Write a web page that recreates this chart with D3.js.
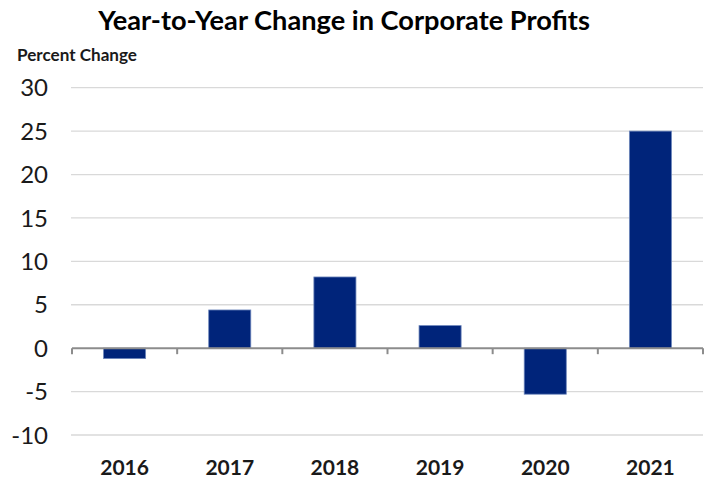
<!DOCTYPE html>
<html><head><meta charset="utf-8">
<script src="https://cdn.jsdelivr.net/npm/d3@7/dist/d3.min.js"></script>
<style>body{margin:0;background:#fff;} svg{display:block;}</style>
</head><body>
<svg id="c" width="706" height="479"></svg>
<script>
const years = ["2016","2017","2018","2019","2020","2021"];
const values = [-1.2, 4.4, 8.2, 2.6, -5.3, 25.0];
const yTicks = [-10,-5,0,5,10,15,20,25,30];
const title = "Year-to-Year Change in Corporate Profits";
const yLabel = "Percent Change";

const svg = d3.select("#c");
const font = "Lato, 'Open Sans', sans-serif";
const x = d3.scaleBand().domain(years).range([72, 703]).paddingInner(0).paddingOuter(0);
const y = d3.scaleLinear().domain([-10, 30]).range([435, 87.7]);

// gridlines
svg.append("g").selectAll("line").data(yTicks.filter(d => d !== 0)).join("line")
  .attr("x1", 71).attr("x2", 703)
  .attr("y1", d => y(d)).attr("y2", d => y(d))
  .attr("stroke", "#d9d9d9").attr("stroke-width", 1.3);

// y tick labels
svg.append("g").selectAll("text").data(yTicks).join("text")
  .attr("x", 48).attr("y", d => y(d)).attr("dy", "0.36em")
  .attr("text-anchor", "end")
  .attr("font-family", font).attr("font-size", 24).attr("fill", "#1a1a1a")
  .text(d => d);

// bars
const bw = x.bandwidth() * 0.4;
svg.append("g").selectAll("rect").data(years).join("rect")
  .attr("x", (d) => x(d) + (x.bandwidth() - bw) / 2)
  .attr("width", bw)
  .attr("y", (d, i) => y(Math.max(0, values[i])))
  .attr("height", (d, i) => Math.abs(y(values[i]) - y(0)))
  .attr("fill", "#00247a")
  .attr("stroke", "#6d86bb").attr("stroke-width", 0.8);

// x axis
const xAxis = d3.axisBottom(x).tickSize(0).tickFormat("");
const ax = svg.append("g").attr("transform", `translate(0,${y(0)})`).call(xAxis);
ax.select(".domain").remove();
ax.append("line").attr("x1", 72).attr("x2", 703).attr("y1", 0).attr("y2", 0)
  .attr("stroke", "#8c8c8c").attr("stroke-width", 2);
const bounds = years.map(d => x(d)).concat([x(years[years.length-1]) + x.bandwidth()]);
ax.selectAll(".tk").data(bounds).join("line").attr("class","tk")
  .attr("x1", d => d).attr("x2", d => d).attr("y1", 0).attr("y2", 6)
  .attr("stroke", "#8c8c8c").attr("stroke-width", 2);

// x labels
svg.append("g").selectAll("text").data(years).join("text")
  .attr("x", d => x(d) + x.bandwidth() / 2).attr("y", 475)
  .attr("text-anchor", "middle")
  .attr("font-family", font).attr("font-weight", "bold").attr("font-size", 21).attr("fill", "#1a1a1a")
  .text(d => d);

function fit(sel, w) {
  const fs = +sel.attr("font-size");
  const len = sel.node().getComputedTextLength();
  if (len > 0) sel.attr("font-size", fs * w / len);
}

// title
const t = svg.append("text").attr("x", 344).attr("y", 30).attr("text-anchor", "middle")
  .attr("font-family", font).attr("font-weight", "bold").attr("font-size", 27).attr("fill", "#000")
  .text(title);
fit(t, 492);

const yl = svg.append("text").attr("x", 17).attr("y", 61)
  .attr("font-family", font).attr("font-weight", "bold").attr("font-size", 17).attr("fill", "#1a1a1a")
  .text(yLabel);
fit(yl, 120);
</script>
</body></html>
